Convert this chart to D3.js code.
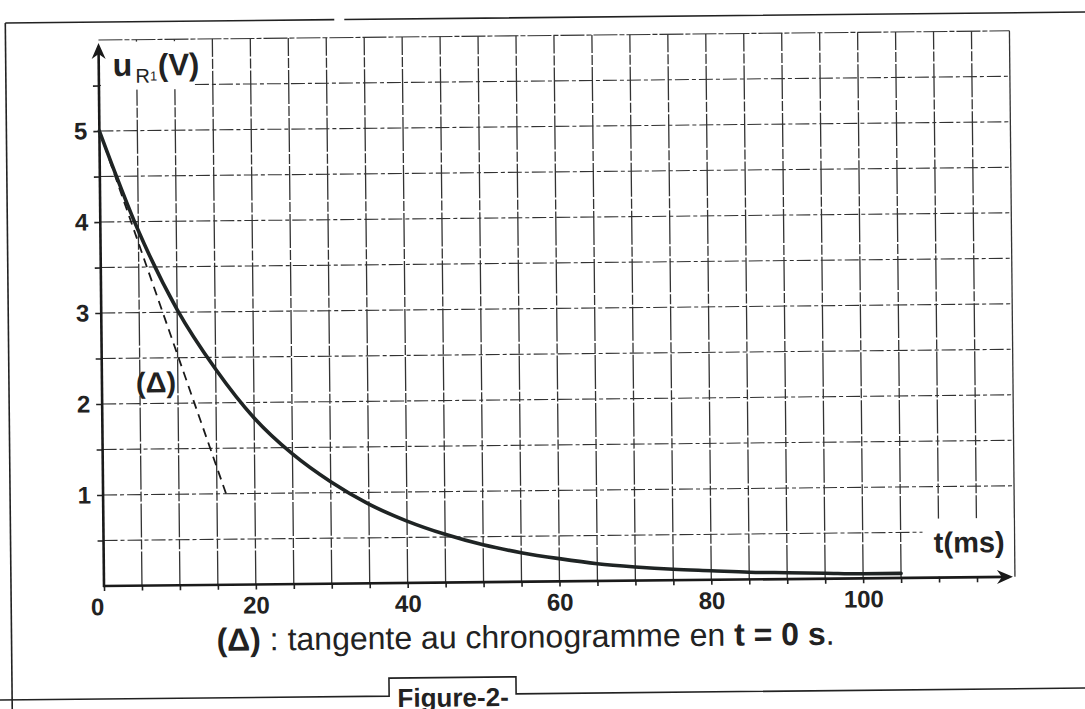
<!DOCTYPE html>
<html>
<head>
<meta charset="utf-8">
<script src="https://cdn.jsdelivr.net/npm/d3@7"></script>
<style>
    html, body { margin: 0; padding: 0; background: #fff; }
    svg { display: block; font-family: "Liberation Sans", Arial, sans-serif; }
</style>
</head>
<body>
<svg id="chart" width="1085" height="709"></svg>
<script>
"use strict";

// values
const timeMs = [0, 5, 10, 15, 20, 25, 30, 35, 40, 45, 50, 55, 60, 65, 70, 75, 80, 85, 90, 95, 100, 105];
const uR1Volts = [5.00, 3.90, 3.03, 2.37, 1.83, 1.43, 1.12, 0.87, 0.68, 0.53, 0.41, 0.32, 0.25, 0.19, 0.15, 0.12, 0.10, 0.08, 0.07, 0.06, 0.05, 0.05];
const tangentMs = [0, 16.2];
const tangentVolts = [5, 1];
const xTickMs = [0, 5, 10, 15, 20, 25, 30, 35, 40, 45, 50, 55, 60, 65, 70, 75, 80, 85, 90, 95, 100, 105, 110, 115, 120];
const xLabelMs = [0, 20, 40, 60, 80, 100];
const yTickVolts = [0, 0.5, 1, 1.5, 2, 2.5, 3, 3.5, 4, 4.5, 5, 5.5, 6];
const yLabelVolts = [1, 2, 3, 4, 5];

const chart = (function () {
    let _svg, _page, _x, _y;

    function init() {
        _svg = d3.select("#chart");
        _svg.append("rect").attr("width", 1085).attr("height", 709).attr("fill", "#fff");
        // the scan is slightly tilted, so the whole page is rotated a bit
        _page = _svg.append("g").attr("transform", "rotate(-0.58, 104, 586)");
        _x = d3.scaleLinear().domain([0, 120]).range([104, 1015]);
        _y = d3.scaleLinear().domain([0, 6]).range([586, 40]);
    }

    function drawFrame() {
        const frame = _page.append("g")
            .attr("fill", "none")
            .attr("stroke", "#222")
            .attr("stroke-width", 1.6);
        frame.append("path").attr("d", "M11,22 H340 M350,22 H1100");
        frame.append("path").attr("d", "M11,22 V720");
        frame.append("path").attr("d", "M-10,699 H388 V681 H515 V698 H1100");
    }

    function drawGrid() {
        const grid = _page.append("g")
            .attr("stroke", "#333")
            .attr("stroke-width", 1.1)
            .attr("fill", "none");
        grid.selectAll(".hline")
            .data(yTickVolts.filter(v => v > 0))
            .join("line")
            .attr("class", "hline")
            .attr("x1", _x(0)).attr("x2", _x(120))
            .attr("y1", d => _y(d)).attr("y2", d => _y(d))
            .attr("stroke-dasharray", d => d === 6 ? "24,2,5,2" : "14,3,4,3");
        grid.selectAll(".vline")
            .data(xTickMs.filter(t => t > 0))
            .join("line")
            .attr("class", "vline")
            .attr("x1", d => _x(d)).attr("x2", d => _x(d))
            .attr("y1", _y(0)).attr("y2", _y(6))
            .attr("stroke-width", 1.3)
            .attr("stroke-dasharray", d => d === 120 ? null : "34,2,10,2");

        // blank patches behind the axis titles
        _page.append("rect")
            .attr("x", _x(0) + 2).attr("y", _y(6) + 2)
            .attr("width", 92).attr("height", 48)
            .attr("fill", "#fff");
        _page.append("rect")
            .attr("x", 923).attr("y", 527)
            .attr("width", _x(120) - 924).attr("height", _y(0) - 528)
            .attr("fill", "#fff");
    }

    function drawAxes() {
        const xAxis = d3.axisBottom(_x)
            .tickValues(xTickMs.filter(t => t < 120))
            .tickSize(5)
            .tickPadding(7)
            .tickFormat(d => xLabelMs.includes(d) ? d : "");
        const gx = _page.append("g")
            .attr("transform", `translate(0, ${_y(0)})`)
            .call(xAxis);
        const yAxis = d3.axisLeft(_y)
            .tickValues(yTickVolts.filter(v => v > 0 && v < 6))
            .tickSize(6)
            .tickPadding(6)
            .tickFormat(d => yLabelVolts.includes(d) ? d : "");
        const gy = _page.append("g")
            .attr("transform", `translate(${_x(0)}, 0)`)
            .call(yAxis);

        [gx, gy].forEach(g => {
            g.attr("font-size", 24).attr("font-family", "Liberation Sans, Arial, sans-serif");
            g.select(".domain").remove();
            g.selectAll(".tick line").attr("stroke", "#222").attr("stroke-width", 1.6);
            g.selectAll(".tick text")
                .attr("fill", "#222")
                .attr("font-size", 24)
                .attr("font-weight", "bold");
        });
        gx.selectAll(".tick text").filter(d => d === 0).attr("dx", -7);

        const axes = _page.append("g")
            .attr("stroke", "#1a1a1a")
            .attr("stroke-width", 2.6)
            .attr("fill", "none");
        axes.append("line")
            .attr("x1", _x(0) - 1).attr("x2", _x(120) - 6)
            .attr("y1", _y(0)).attr("y2", _y(0));
        axes.append("line")
            .attr("x1", _x(0)).attr("x2", _x(0))
            .attr("y1", _y(0) + 1).attr("y2", _y(6) + 8);

        const tipX = _x(120) - 2, tipY = _y(6) + 3;
        _page.append("path")
            .attr("d", `M${tipX},${_y(0)} L${tipX - 16},${_y(0) - 7} L${tipX - 11},${_y(0)} L${tipX - 16},${_y(0) + 7} Z`)
            .attr("fill", "#1a1a1a");
        _page.append("path")
            .attr("d", `M${_x(0)},${tipY} L${_x(0) - 7},${tipY + 16} L${_x(0)},${tipY + 11} L${_x(0) + 7},${tipY + 16} Z`)
            .attr("fill", "#1a1a1a");
    }

    function drawCurves() {
        const line = d3.line()
            .x(d => _x(d[0]))
            .y(d => _y(d[1]));

        _page.append("path")
            .datum(tangentMs.map((t, i) => [t, tangentVolts[i]]))
            .attr("d", line)
            .attr("fill", "none")
            .attr("stroke", "#1a1a1a")
            .attr("stroke-width", 1.8)
            .attr("stroke-dasharray", "9,6");

        _page.append("path")
            .datum(timeMs.map((t, i) => [t, uR1Volts[i]]))
            .attr("d", line.curve(d3.curveMonotoneX))
            .attr("fill", "none")
            .attr("stroke", "#1f2424")
            .attr("stroke-width", 3.6)
            .attr("stroke-linecap", "round");
    }

    function drawTexts() {
        const ink = "#222";
        const uLabel = _page.append("text")
            .attr("x", 118).attr("y", 76)
            .attr("fill", ink)
            .attr("font-weight", "bold");
        uLabel.append("tspan").attr("font-size", 32).text("u");
        uLabel.append("tspan").attr("font-size", 20).attr("font-weight", "normal").attr("dy", 7).attr("dx", 3).text("R");
        uLabel.append("tspan").attr("font-size", 13).attr("font-weight", "normal").attr("dy", -2).text("1");
        uLabel.append("tspan").attr("font-size", 31).attr("dy", -5).attr("dx", 1).text("(V)");

        _page.append("text")
            .attr("x", 1005).attr("y", 561)
            .attr("text-anchor", "end")
            .attr("fill", ink)
            .attr("font-size", 29)
            .attr("font-weight", "bold")
            .text("t(ms)");

        _page.append("text")
            .attr("x", 138).attr("y", 393)
            .attr("fill", ink)
            .attr("font-size", 29)
            .attr("font-weight", "bold")
            .text("(Δ)");

        const caption = _page.append("text")
            .attr("x", 216).attr("y", 652)
            .attr("fill", ink)
            .attr("font-size", 32);
        caption.append("tspan").attr("font-weight", "bold").text("(Δ)");
        caption.append("tspan").text(" : tangente au chronogramme en ");
        caption.append("tspan").attr("font-weight", "bold").text("t = 0 s");
        caption.append("tspan").text(".");

        _page.append("text")
            .attr("x", 452).attr("y", 710)
            .attr("text-anchor", "middle")
            .attr("fill", ink)
            .attr("font-size", 26)
            .attr("font-weight", "bold")
            .text("Figure-2-");
    }

    return {
        render: function () {
            init();
            drawFrame();
            drawGrid();
            drawAxes();
            drawCurves();
            drawTexts();
        }
    };
})();

chart.render();
</script>
</body>
</html>
